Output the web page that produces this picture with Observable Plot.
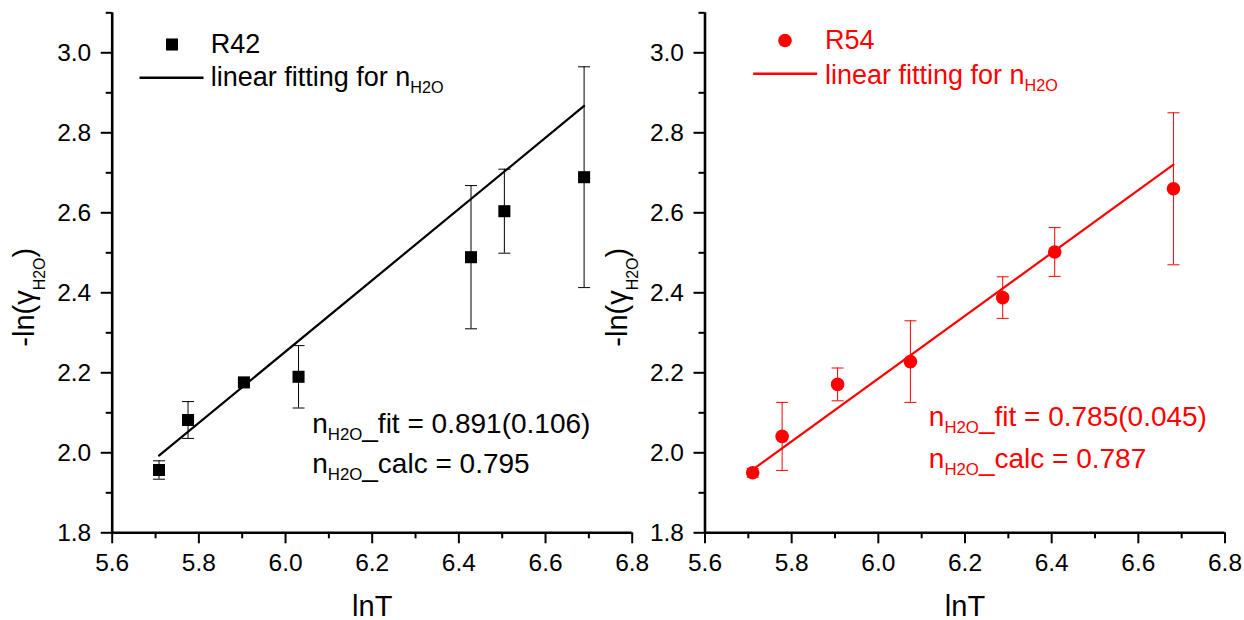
<!DOCTYPE html>
<html><head><meta charset="utf-8">
<script src="https://cdn.jsdelivr.net/npm/d3@7"></script>
<script src="https://cdn.jsdelivr.net/npm/@observablehq/plot@0.6"></script>
<style>
html,body{margin:0;padding:0;background:#fff;}
#wrap{position:relative;width:1244px;height:620px;overflow:hidden;}
#wrap svg{position:absolute;top:0;}
</style></head><body><div id="wrap"></div>
<script>
// ---------- data ----------
const seriesNames = ["R42", "R54"];
const lnT_R42 = [5.708, 5.775, 5.904, 6.030, 6.428, 6.505, 6.689];
const y_R42   = [1.957, 2.082, 2.176, 2.190, 2.489, 2.604, 2.689];
const err_R42 = [0.023, 0.046, 0.008, 0.078, 0.179, 0.105, 0.276];
const lnT_R54 = [5.710, 5.778, 5.906, 6.074, 6.287, 6.407, 6.681];
const y_R54   = [1.950, 2.041, 2.171, 2.228, 2.388, 2.502, 2.660];
const err_R54 = [0.011, 0.085, 0.041, 0.102, 0.052, 0.061, 0.190];
const fitSlope = [0.891, 0.785];
const fitIntercept = [-3.0928, -2.5244];
const xDomain = [5.6, 6.8];
const yDomain = [1.8, 3.1];
const xMajorTicks = [5.6, 5.8, 6.0, 6.2, 6.4, 6.6, 6.8];
const xMinorTicks = [5.7, 5.9, 6.1, 6.3, 6.5, 6.7];
const yMajorTicks = [1.8, 2.0, 2.2, 2.4, 2.6, 2.8, 3.0];
const yMinorTicks = [1.9, 2.1, 2.3, 2.5, 2.7, 2.9, 3.1];
const xLabel = "lnT";
const yLabel = "-ln(γ{H2O})";
const fitLegendLabel = "linear fitting for n{H2O}";
const notes_R42 = ["n{H2O}_fit = 0.891(0.106)", "n{H2O}_calc = 0.795"];
const notes_R54 = ["n{H2O}_fit = 0.785(0.045)", "n{H2O}_calc = 0.787"];

// ---------- helpers ----------
const hline = {draw(ctx, size) { const r = Math.sqrt(size / Math.PI); ctx.moveTo(-r, 0); ctx.lineTo(r, 0); }};
const FONT = "'Liberation Sans', Arial, Helvetica, sans-serif";

function richify(svg) {
  svg.querySelectorAll("text").forEach(t => {
    const s = t.textContent;
    if (!s || s.indexOf("{") < 0) return;
    const g = t.closest("g[font-size]");
    const size = parseFloat(t.getAttribute("font-size") || (g && g.getAttribute("font-size"))) || 24;
    const isY = s === yLabel;
    const subShift = size * (isY ? 0.4 : 0.26);
    const subScale = isY ? 0.55 : 0.6;
    const underShift = size * 0.09;
    const parts = [];
    const re = /\{([^}]*)\}(_?)|([^{]+)/g; let m;
    while ((m = re.exec(s))) {
      if (m[3] !== undefined) parts.push({t: m[3], shift: 0, fs: size});
      else {
        parts.push({t: m[1], shift: subShift, fs: size * subScale});
        if (m[2]) parts.push({t: "_", shift: underShift, fs: size});
      }
    }
    t.textContent = "";
    let cur = 0;
    for (const p of parts) {
      const ts = document.createElementNS("http://www.w3.org/2000/svg", "tspan");
      ts.setAttribute("dy", p.shift - cur); cur = p.shift;
      ts.setAttribute("font-size", p.fs);
      ts.textContent = p.t;
      t.appendChild(ts);
    }
  });
}

function panel(cfg) {
  const data = cfg.lnT.map((x, i) => ({x, y: cfg.y[i], e: cfg.err[i]}));
  const xs = d3.extent(cfg.lnT);
  const fit = xs.map(x => ({x, y: cfg.intercept + cfg.slope * x}));
  const c = cfg.color;
  const svg = Plot.plot({
    width: cfg.width, height: 620,
    marginTop: 12.3, marginBottom: 87.7, marginLeft: cfg.marginLeft, marginRight: cfg.marginRight,
    x: {domain: xDomain, label: null},
    y: {domain: yDomain, label: null},
    style: {background: "none", overflow: "visible", fontFamily: FONT, color: "#000"},
    marks: [
      Plot.axisX({ticks: xMinorTicks, tickSize: 6, strokeWidth: 2, tickFormat: () => "", label: null}),
      Plot.axisX({ticks: xMajorTicks, tickSize: 11, tickPadding: 10, strokeWidth: 2, fontSize: 24.5, tickFormat: d3.format(".1f"), label: null}),
      Plot.axisY({ticks: yMinorTicks, tickSize: 6, strokeWidth: 2, tickFormat: () => "", label: null}),
      Plot.axisY({ticks: yMajorTicks, tickSize: 11, tickPadding: 10, strokeWidth: 2, fontSize: 24.5, tickFormat: d3.format(".1f"), label: null}),
      Plot.ruleX([xDomain[0]], {strokeWidth: 2.6}),
      Plot.ruleY([yDomain[0]], {strokeWidth: 2.6}),
      // error bars
      Plot.ruleX(data, {x: "x", y1: d => d.y - d.e, y2: d => d.y + d.e, stroke: c, strokeWidth: 1}),
      Plot.dot(data, {x: "x", y: d => d.y - d.e, symbol: hline, r: 6, fill: "none", stroke: c, strokeWidth: 1}),
      Plot.dot(data, {x: "x", y: d => d.y + d.e, symbol: hline, r: 6, fill: "none", stroke: c, strokeWidth: 1}),
      // fit
      Plot.line(fit, {x: "x", y: "y", stroke: c, strokeWidth: 2.2}),
      // points
      Plot.dot(data, {x: "x", y: "y", symbol: cfg.symbol, r: cfg.r, fill: c, stroke: "none"}),
      // legend
      Plot.dot([0], {frameAnchor: "top-left", dx: cfg.leg.mx, dy: cfg.leg.my, symbol: cfg.symbol, r: cfg.r, fill: c, stroke: "none"}),
      Plot.dot([0], {frameAnchor: "top-left", dx: cfg.leg.lx, dy: cfg.leg.ly, symbol: hline, r: 32, fill: "none", stroke: c, strokeWidth: 2.4}),
      Plot.text([cfg.name], {text: d => d, frameAnchor: "top-left", dx: cfg.leg.tx, dy: cfg.leg.t1, textAnchor: "start", lineAnchor: "bottom", fontSize: 27, fill: c}),
      Plot.text([fitLegendLabel], {text: d => d, frameAnchor: "top-left", dx: cfg.leg.tx, dy: cfg.leg.t2, textAnchor: "start", lineAnchor: "bottom", fontSize: 27, fill: c}),
      // annotations
      Plot.text([cfg.notes[0]], {text: d => d, frameAnchor: "top-left", dx: cfg.ann.x, dy: cfg.ann.y1, textAnchor: "start", lineAnchor: "bottom", fontSize: 28, fill: c}),
      Plot.text([cfg.notes[1]], {text: d => d, frameAnchor: "top-left", dx: cfg.ann.x, dy: cfg.ann.y2, textAnchor: "start", lineAnchor: "bottom", fontSize: 28, fill: c}),
      // axis titles
      Plot.text([xLabel], {text: d => d, frameAnchor: "bottom", dy: 82.7, textAnchor: "middle", lineAnchor: "bottom", fontSize: 29, fill: "#000"}),
      Plot.text([yLabel], {text: d => d, frameAnchor: "left", dx: -78.5, dy: 24.5, rotate: -90, textAnchor: "middle", lineAnchor: "bottom", fontSize: 29, fill: "#000"})
    ]
  });
  richify(svg);
  svg.style.left = cfg.left + "px";
  return svg;
}

const wrap = document.getElementById("wrap");
wrap.appendChild(panel({
  name: seriesNames[0], lnT: lnT_R42, y: y_R42, err: err_R42, slope: fitSlope[0], intercept: fitIntercept[0],
  color: "#000000", symbol: "square", r: 6.8,
  left: 0, width: 660, marginLeft: 111.7, marginRight: 28.3,
  leg: {mx: 59.8, my: 31.7, lx: 59.3, ly: 65, tx: 98.5, t1: 40, t2: 73.4},
  ann: {x: 200, y1: 420.4, y2: 460.4},
  notes: notes_R42
}));
wrap.appendChild(panel({
  name: seriesNames[1], lnT: lnT_R54, y: y_R54, err: err_R54, slope: fitSlope[1], intercept: fitIntercept[1],
  color: "#ff0000", symbol: "circle", r: 6.8,
  left: 595, width: 649, marginLeft: 109.5, marginRight: 19.5,
  leg: {mx: 80, my: 27.7, lx: 80.2, ly: 61, tx: 120, t1: 36, t2: 71},
  ann: {x: 223.8, y1: 412.7, y2: 454.7},
  notes: notes_R54
}));
</script></body></html>
